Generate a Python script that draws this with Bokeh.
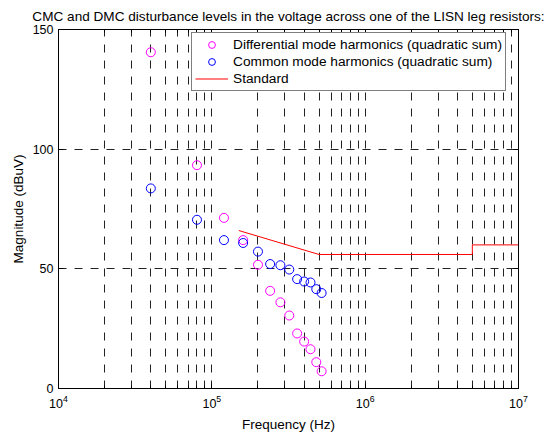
from bokeh.plotting import figure
from bokeh.models import (FixedTicker, LogAxis, LinearAxis, Range1d,
                          LogTickFormatter, Legend)
from bokeh.embed import file_html
from bokeh.resources import INLINE

# ---- data ----
freq_hz = [40e3, 80e3, 120e3, 160e3, 200e3, 240e3, 280e3, 320e3, 360e3, 400e3, 440e3, 480e3, 520e3]
dm_dbuv = [140.5, 93.3, 71.3, 62.0, 51.7, 40.8, 36.0, 30.5, 23.0, 19.6, 16.4, 11.0, 7.2]
cm_dbuv = [83.6, 70.5, 62.0, 60.8, 57.2, 52.0, 51.5, 49.7, 45.7, 44.7, 44.3, 41.5, 39.9]
std_freq_hz = [150e3, 500e3, 5e6, 5e6, 1e7]
std_dbuv = [66, 56, 56, 60, 60]

x_major = [1e4, 1e5, 1e6, 1e7]
x_minor = [m * d for d in [1e4, 1e5, 1e6] for m in range(2, 10)]
y_major = [0, 50, 100, 150]

title_text = "CMC and DMC disturbance levels in the voltage across one of the LISN leg resistors:"
FONT = "Liberation Sans"

p = figure(width=545, height=436, frame_width=460, frame_height=359,
           x_axis_type="log", x_range=Range1d(1e4, 1e7), y_range=Range1d(0, 150),
           output_backend="svg", toolbar_location=None, title=title_text,
           min_border_left=58, min_border_right=27, min_border_top=29, min_border_bottom=48)
p.outline_line_color = "black"
p.outline_line_width = 1
p.background_fill_color = "white"
p.border_fill_color = "white"

p.title.text_font = FONT
p.title.text_font_size = "13.6px"
p.title.text_font_style = "normal"
p.title.text_color = "black"
p.title.align = "center"
p.title.offset = -3
p.title.standoff = 11

xt = FixedTicker(ticks=x_major, minor_ticks=x_minor)
yt = FixedTicker(ticks=y_major, minor_ticks=[])

for ax in [p.xaxis[0], p.yaxis[0]]:
    ax.axis_line_color = "black"
    ax.major_tick_in = 5
    ax.major_tick_out = 0
    ax.minor_tick_in = 3
    ax.minor_tick_out = 0
    ax.major_label_text_font = FONT
    ax.major_label_text_font_size = "12.5px"
    ax.major_label_text_color = "black"
    ax.axis_label_text_font = FONT
    ax.axis_label_text_font_size = "13.5px"
    ax.axis_label_text_font_style = "normal"
    ax.axis_label_text_color = "black"

p.xaxis[0].ticker = xt
p.xaxis[0].formatter = LogTickFormatter()
p.xaxis[0].axis_label = "Frequency (Hz)"
p.xaxis[0].major_label_standoff = 6
p.xaxis[0].axis_label_standoff = 6
p.yaxis[0].ticker = yt
p.yaxis[0].axis_label = "Magnitude (dBuV)"
p.yaxis[0].major_label_standoff = 5
p.yaxis[0].axis_label_standoff = 4

top = LogAxis(ticker=xt, major_label_text_color=None, major_label_text_font_size="1px",
              major_tick_in=5, major_tick_out=0,
              minor_tick_in=3, minor_tick_out=0, axis_line_color="black", major_label_standoff=0)
right = LinearAxis(ticker=yt, major_label_text_color=None, major_label_text_font_size="1px",
                   major_tick_in=5, major_tick_out=0,
                   minor_tick_in=0, minor_tick_out=0, axis_line_color="black", major_label_standoff=0)
p.add_layout(top, "above")
p.add_layout(right, "right")

p.xgrid.ticker = xt
p.xgrid.grid_line_color = "#222222"
p.xgrid.grid_line_dash = "8 8"
p.xgrid.minor_grid_line_color = "#222222"
p.xgrid.minor_grid_line_dash = "8 8"
p.ygrid.ticker = yt
p.ygrid.grid_line_color = "#222222"
p.ygrid.grid_line_dash = "8 8"

r_dm = p.scatter(freq_hz, dm_dbuv, marker="circle", size=9, fill_color=None,
                 line_color="#ff00ff", line_width=1)
r_cm = p.scatter(freq_hz, cm_dbuv, marker="circle", size=9, fill_color=None,
                 line_color="#0000ff", line_width=1)
r_std = p.line(std_freq_hz, std_dbuv, line_color="#ff0000", line_width=1)

legend = Legend(items=[("Differential mode harmonics (quadratic sum)", [r_dm]),
                       ("Common mode harmonics (quadratic sum)", [r_cm]),
                       ("Standard", [r_std])],
                location=(133, 297))
legend.border_line_color = "black"
legend.border_line_width = 1
legend.background_fill_color = "white"
legend.background_fill_alpha = 1
legend.label_text_font = FONT
legend.label_text_font_size = "13.7px"
legend.label_text_color = "black"
legend.glyph_width = 33
legend.glyph_height = 17
legend.label_height = 17
legend.label_standoff = 5
legend.spacing = 0
legend.padding = 3
legend.margin = 0
p.add_layout(legend, "center")

open("out.html", "w").write(file_html(p, INLINE))
